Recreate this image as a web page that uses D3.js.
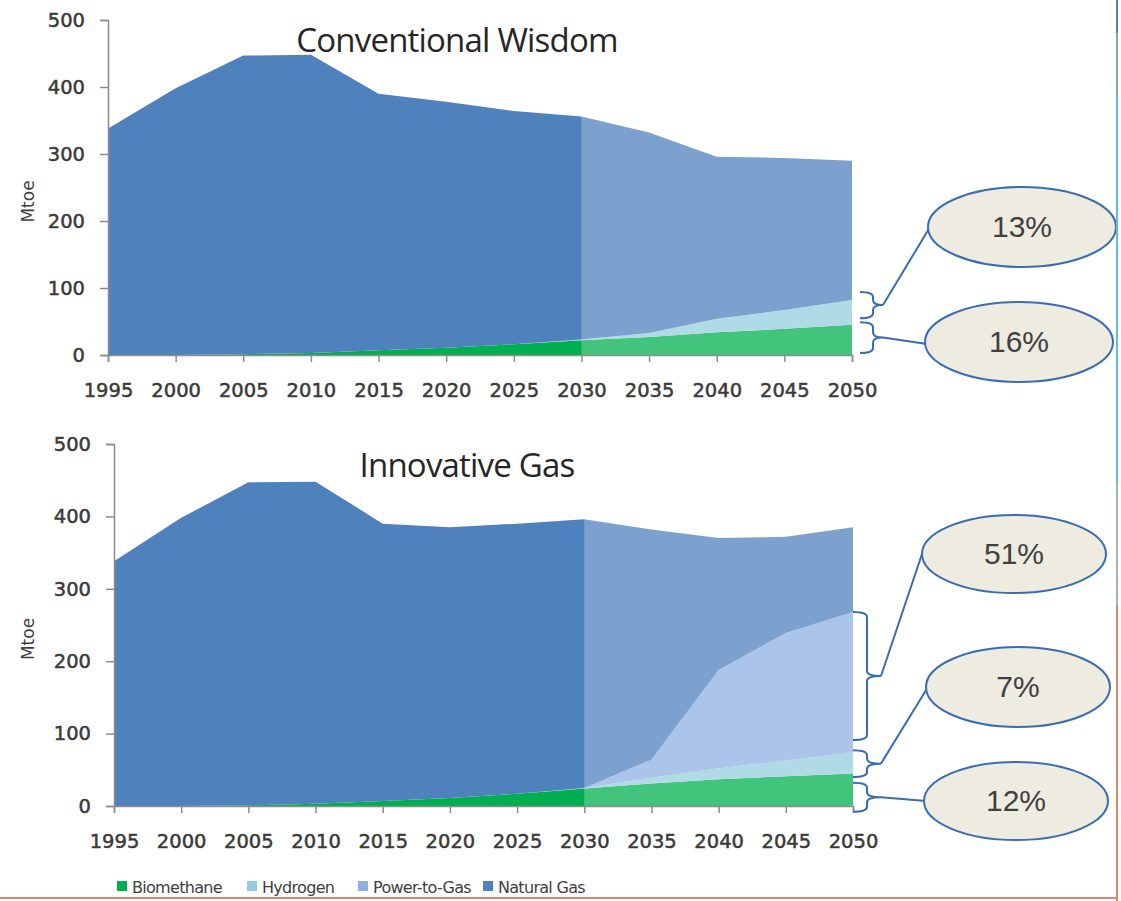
<!DOCTYPE html>
<html>
<head>
<meta charset="utf-8">
<script src="https://cdn.jsdelivr.net/npm/d3@7"></script>
<style>
  body { margin: 0; background: #fff; }
  svg { display: block; }
  .tick text { font-family: "DejaVu Sans", sans-serif; font-size: 19.5px; fill: #3a3a3a; stroke: #3a3a3a; stroke-width: 0.5px; }
</style>
</head>
<body>
<div id="chart"></div>
<script>
// data (Mtoe)
const years = [1995, 2000, 2005, 2010, 2015, 2020, 2025, 2030, 2035, 2040, 2045, 2050];
const seriesNames = ["Biomethane", "Hydrogen", "Power-to-Gas", "Natural Gas"];
const seriesColors = ["#00b050", "#93cddd", "#8db1e2", "#4f81bd"];
const yTicks = [0, 100, 200, 300, 400, 500];

// Conventional Wisdom
const cwBiomethane = [0, 0, 1, 3, 7, 11, 16, 22, 27, 34, 39, 45];
const cwHydrogen   = [0, 0, 0, 0, 0, 0, 0, 1, 6, 20, 28, 37];
const cwPowerToGas = [0, 0, 0, 0, 0, 0, 0, 0, 0, 0, 0, 0];
const cwNaturalGas = [338, 398, 446, 445, 383, 367, 348, 333, 299, 242, 227, 208];
const cwBraces = [[55, 94], [3, 49]];
const cwShares = ["13%", "16%"];

// Innovative Gas
const igBiomethane = [0, 0, 1, 3, 7, 11, 17, 24, 31, 37, 41, 45];
const igHydrogen   = [0, 0, 0, 0, 0, 0, 0, 1, 8, 15, 22, 29];
const igPowerToGas = [0, 0, 0, 0, 0, 0, 0, 0, 25, 136, 176, 194];
const igNaturalGas = [338, 398, 446, 445, 383, 374, 373, 371, 318, 182, 133, 117];
const igBraces = [[91, 268], [40, 77], [-8, 32]];
const igShares = ["51%", "7%", "12%"];

const projectionStart = 2030;

const svg = d3.select("#chart").append("svg")
    .attr("width", 1121)
    .attr("height", 901);

function makeRows(bio, h2, p2g, ng) {
    return years.map((yr, i) => ({
        year: yr,
        "Biomethane": bio[i],
        "Hydrogen": h2[i],
        "Power-to-Gas": p2g[i],
        "Natural Gas": ng[i]
    }));
}

function bracePath(x0, x1, x2, yTop, yBot) {
    let mid = (yTop + yBot) / 2;
    let r = Math.min(5, (yBot - yTop) / 4);
    return "M" + x0 + "," + yTop +
        " Q" + x1 + "," + yTop + " " + x1 + "," + (yTop + r) +
        " L" + x1 + "," + (mid - r) +
        " Q" + x1 + "," + mid + " " + x2 + "," + mid +
        " Q" + x1 + "," + mid + " " + x1 + "," + (mid + r) +
        " L" + x1 + "," + (yBot - r) +
        " Q" + x1 + "," + yBot + " " + x0 + "," + yBot;
}

function drawPanel(opt) {
    let g = svg.append("g");
    let x = d3.scaleLinear().domain([1995, 2050]).range([opt.left, opt.right]);
    let y = d3.scaleLinear().domain([0, 500]).range([opt.bottom, opt.top]);

    let stack = d3.stack().keys(seriesNames);
    let layers = stack(opt.rows);

    let area = d3.area()
        .x(d => x(d.data.year))
        .y0(d => y(d[0]))
        .y1(d => y(d[1]));

    g.selectAll("path.layer")
        .data(layers)
        .join("path")
        .attr("class", "layer")
        .attr("fill", (d, i) => seriesColors[i])
        .attr("d", area);

    // projection years are shown lighter
    g.append("rect")
        .attr("x", x(projectionStart))
        .attr("y", y(500))
        .attr("width", x(2050) - x(projectionStart))
        .attr("height", y(0) - y(500))
        .attr("fill", "#fff")
        .attr("opacity", 0.26);

    // axes
    let yAxis = d3.axisLeft(y).tickValues(yTicks).tickSize(8).tickPadding(15);
    let gy = g.append("g").attr("transform", "translate(" + opt.left + ",0)").call(yAxis);
    let xAxis = d3.axisBottom(x).tickValues(years).tickFormat(d3.format("d")).tickSize(7).tickPadding(21);
    let gx = g.append("g").attr("transform", "translate(0," + opt.bottom + ")").call(xAxis);
    [gx, gy].forEach(a => {
        a.select(".domain").attr("stroke", "#8c8c8c").attr("stroke-width", 1.5);
        a.selectAll(".tick line").attr("stroke", "#8c8c8c").attr("stroke-width", 1.5);
    });

    g.append("text")
        .attr("transform", "translate(" + 34 + "," + ((opt.top + opt.bottom) / 2 + 14) + ") rotate(-90)")
        .attr("text-anchor", "middle")
        .attr("font-family", "DejaVu Sans, sans-serif")
        .attr("font-size", 17)
        .attr("fill", "#3f3f3f")
        .text("Mtoe");

    g.append("text")
        .attr("x", opt.titleX)
        .attr("y", opt.titleY)
        .attr("text-anchor", "middle")
        .attr("font-family", "Open Sans, sans-serif")
        .attr("font-size", 33)
        .attr("letter-spacing", -0.8)
        .attr("fill", "#262626")
        .text(opt.title);

    // braces and share callouts
    opt.braces.forEach((b, i) => {
        let yTop = y(b[1]), yBot = y(b[0]);
        let mid = (yTop + yBot) / 2;
        let tip = opt.braceX + opt.braceW[1];
        g.append("path")
            .attr("d", bracePath(opt.braceX, opt.braceX + opt.braceW[0], tip, yTop, yBot))
            .attr("fill", "none")
            .attr("stroke", "#3a6cb0")
            .attr("stroke-width", 2);
        let c = opt.callouts[i];
        g.append("line")
            .attr("x1", tip).attr("y1", mid)
            .attr("x2", c[0] - c[2] + 2).attr("y2", c[1] + c[4])
            .attr("stroke", "#3a6cb0")
            .attr("stroke-width", 2);
        g.append("ellipse")
            .attr("cx", c[0]).attr("cy", c[1])
            .attr("rx", c[2]).attr("ry", c[3])
            .attr("fill", "#eeece1")
            .attr("stroke", "#3a6cb0")
            .attr("stroke-width", 2);
        g.append("text")
            .attr("x", c[0]).attr("y", c[1] + 10)
            .attr("text-anchor", "middle")
            .attr("font-family", "Liberation Sans, Arial, sans-serif")
            .attr("font-size", 30)
            .attr("fill", "#404040")
            .text(opt.shares[i]);
    });
}

drawPanel({
    rows: makeRows(cwBiomethane, cwHydrogen, cwPowerToGas, cwNaturalGas),
    left: 108, right: 852, top: 20, bottom: 355,
    title: "Conventional Wisdom", titleX: 457, titleY: 52,
    braces: cwBraces, shares: cwShares,
    braceX: 860, braceW: [13, 23],
    callouts: [[1022, 227, 94, 40, 0], [1019, 342, 94, 40, 2]]
});

drawPanel({
    rows: makeRows(igBiomethane, igHydrogen, igPowerToGas, igNaturalGas),
    left: 114, right: 853, top: 444, bottom: 806,
    title: "Innovative Gas", titleX: 467, titleY: 477,
    braces: igBraces, shares: igShares,
    braceX: 853, braceW: [14, 28],
    callouts: [[1014, 554, 92, 39, -6], [1018, 687, 92, 40, 0], [1016, 801, 92, 39, 0]]
});

// legend
const legendX = [117, 247, 358, 483];
const legend = svg.append("g").selectAll("g")
    .data(seriesNames)
    .join("g")
    .attr("transform", (d, i) => "translate(" + legendX[i] + ",881)");
legend.append("rect")
    .attr("width", 10).attr("height", 10)
    .attr("fill", (d, i) => seriesColors[i]);
legend.append("text")
    .attr("x", 15).attr("y", 12)
    .attr("font-family", "DejaVu Sans, sans-serif")
    .attr("font-size", 16)
    .attr("letter-spacing", -0.7)
    .attr("fill", "#404040")
    .text(d => d);

// frame edges of the slide
svg.append("line").attr("x1", 0).attr("x2", 1118).attr("y1", 898).attr("y2", 898)
    .attr("stroke", "#d9896a").attr("stroke-width", 2);
const edgeStops = [[0, 33, "#4f81bd"], [33, 95, "#7fae9a"], [95, 483, "#5bc0de"], [483, 605, "#9fb8a8"], [605, 901, "#d9896a"]];
svg.append("g").selectAll("line")
    .data(edgeStops)
    .join("line")
    .attr("x1", 1117).attr("x2", 1117)
    .attr("y1", d => d[0]).attr("y2", d => d[1])
    .attr("stroke", d => d[2])
    .attr("stroke-width", 2);
</script>
</body>
</html>
